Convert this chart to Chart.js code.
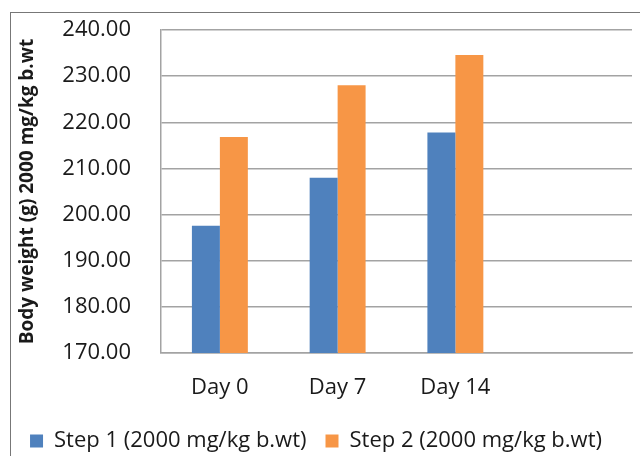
<!DOCTYPE html>
<html lang="en">
<head>
    <meta charset="UTF-8">
    <title>Body weight</title>
    <style>
        *{
            margin:0;
            padding:0;
        }
        body{
            width: 640px;
            height: 456px;
            background: white;
            overflow: hidden;
            position: relative;
        }
        .frame{
            position: absolute;
            left: 10px;
            top: 12px;
            width: 700px;
            height: 500px;
            border: 1.5px solid #777;
        }
        .card{
            position: absolute;
            left: 0;
            top: 0;
            width: 640px;
            height: 456px;
        }
    </style>
</head>
<body>
    <div class="frame"></div>
    <div class="card">
        <canvas id="weightChart" width="640" height="456"></canvas>
    </div>
    <script src="https://cdn.jsdelivr.net/npm/chart.js@4.4.0/dist/chart.umd.min.js"></script>
    <script>
        // last category is empty in the original, it just leaves room on the right
        const days = ['Day 0', 'Day 7', 'Day 14', ''];
        const step1 = [197.6, 208.0, 217.8, null];
        const step2 = [216.8, 228.0, 234.6, null];
        const yTicks = [170, 180, 190, 200, 210, 220, 230, 240];

        const txt = '#1a1a1a';
        const grid = '#a3a3a3';

        const ctx = document.getElementById('weightChart').getContext('2d');
        let weightChart = new Chart(ctx, {
            type: 'bar',
            data: {
                labels: days,
                datasets: [{
                    label: 'Step 1 (2000 mg/kg b.wt)',
                    data: step1,
                    backgroundColor: '#4f81bd',
                    categoryPercentage: 0.475,
                    barPercentage: 1.0,
                },{
                    label: 'Step 2 (2000 mg/kg b.wt)',
                    data: step2,
                    backgroundColor: '#f79646',
                    categoryPercentage: 0.475,
                    barPercentage: 1.0,
                }]
            },
            options: {
                responsive: false,
                animation: false,
                layout: {
                    padding: {left: 0, right: 8, top: 30, bottom: -6}
                },
                plugins: {
                    legend: {
                        position: 'bottom',
                        labels: {
                            color: txt,
                            font: {family: 'Open Sans', size: 22},
                            boxWidth: 13,
                            boxHeight: 13,
                            padding: 19,
                        }
                    },
                    tooltip: {enabled: false},
                },
                scales: {
                    x: {
                        grid: {display: false, drawTicks: false},
                        border: {display: true, color: grid, width: 1.5},
                        afterFit: function(scale){
                            scale.height = 58;
                        },
                        ticks: {
                            color: txt,
                            font: {family: 'Open Sans', size: 22},
                            padding: 22,
                            maxRotation: 0,
                        }
                    },
                    y: {
                        min: 170,
                        max: 240,
                        afterBuildTicks: function(scale){
                            scale.ticks = yTicks.map(v => ({value: v}));
                        },
                        afterFit: function(scale){
                            scale.width = 161;
                        },
                        // invisible tick marks push the labels away from the axis
                        grid: {color: grid, lineWidth: 1.5, drawTicks: true, tickLength: 30, tickColor: 'rgba(0,0,0,0)'},
                        border: {display: true, color: grid, width: 1.5},
                        ticks: {
                            color: txt,
                            font: {family: 'Open Sans', size: 22},
                            padding: 0,
                            callback: v => v.toFixed(2),
                        },
                        title: {
                            display: true,
                            text: 'Body weight (g) 2000 mg/kg b.wt',
                            color: txt,
                            font: {family: 'Open Sans', size: 19, weight: 'bold'},
                            padding: {top: 16, bottom: 0},
                        }
                    }
                }
            }
        });
    </script>
</body>
</html>
